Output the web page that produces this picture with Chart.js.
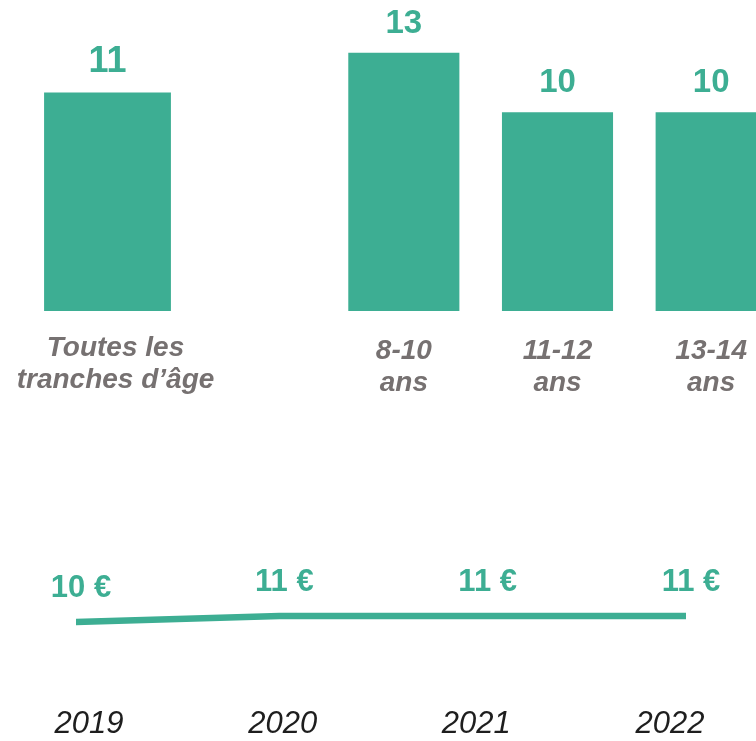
<!DOCTYPE html>
<html>
<head>
<meta charset="utf-8">
<script src="https://cdn.jsdelivr.net/npm/chart.js@4.4.1/dist/chart.umd.min.js"></script>
<style>
  html, body { margin: 0; padding: 0; background: #fff; overflow: hidden; width: 756px; height: 741px; }
  .box { position: absolute; }
</style>
</head>
<body>
<div class="box" style="left:0;top:0;width:215px;height:400px"><canvas id="allAges"></canvas></div>
<div class="box" style="left:327px;top:0;width:461px;height:400px"><canvas id="byAge"></canvas></div>
<div class="box" style="left:0;top:540px;width:756px;height:201px"><canvas id="byYear"></canvas></div>
<script>
// donnees
let allAgesLabel = [["Toutes les", "tranches d’âge"]];
let allAgesValue = [11];
let ageLabels = [["8-10", "ans"], ["11-12", "ans"], ["13-14", "ans"]];
let ageValues = [13, 10, 10];
let years = [2019, 2020, 2021, 2022];
let yearValues = [10, 11, 11, 11];

let green = "#3dae93";
let grey = "#767171";
let fontFamily = "'Liberation Sans', Arial, sans-serif";

// etiquette de valeur au dessus de chaque barre
let barValues = (size) => ({
    id: "barValues" + size,
    afterDatasetsDraw(chart) {
        let ctx = chart.ctx;
        let meta = chart.getDatasetMeta(0);
        ctx.save();
        ctx.fillStyle = green;
        ctx.font = "bold " + size + "px " + fontFamily;
        ctx.textAlign = "center";
        ctx.textBaseline = "alphabetic";
        meta.data.forEach((bar, i) => {
            ctx.fillText(chart.data.datasets[0].data[i], bar.x, bar.y - 20);
        });
        ctx.restore();
    }
});

let barChart = (id, labels, values, pct, pad, shift, size) => new Chart(id, {
    type: "bar",
    data: {
        labels: labels,
        datasets: [{
            data: values,
            backgroundColor: green,
            barPercentage: pct,
            categoryPercentage: 1
        }]
    },
    options: {
        responsive: true,
        maintainAspectRatio: false,
        animation: false,
        events: [],
        layout: { padding: { top: 13, left: 0, right: 0, bottom: 0 } },
        plugins: { legend: { display: false }, tooltip: { enabled: false } },
        scales: {
            x: {
                grid: { display: false, drawTicks: false },
                border: { display: false },
                ticks: {
                    color: grey,
                    padding: pad,
                    labelOffset: shift,
                    maxRotation: 0,
                    autoSkip: false,
                    font: { family: fontFamily, size: 28, style: "italic", weight: "bold", lineHeight: 1.12 }
                },
                afterFit: s => {
                    s.height = 89;
                    s.paddingLeft = 0;
                    s.paddingRight = 0;
                }
            },
            y: { display: false, min: 0, max: 15 }
        }
    },
    plugins: [barValues(size)]
});

barChart("allAges", allAgesLabel, allAgesValue, 0.59, 22, 8, 36);
barChart("byAge", ageLabels, ageValues, 0.723, 25, 0, 33);

// courbe du montant par annee
let yearPoints = years.map((y, i) => ({ x: y, y: yearValues[i] }));

new Chart("byYear", {
    type: "line",
    data: {
        datasets: [{
            data: yearPoints,
            borderColor: green,
            borderWidth: 6.5,
            borderCapStyle: "round",
            pointRadius: 0,
            tension: 0
        }]
    },
    options: {
        responsive: true,
        maintainAspectRatio: false,
        animation: false,
        events: [],
        layout: { padding: { top: 40, left: 76, right: 70, bottom: 0 } },
        plugins: { legend: { display: false }, tooltip: { enabled: false } },
        scales: {
            x: { type: "linear", display: false, min: 2019, max: 2022 },
            years: {
                type: "linear",
                position: "bottom",
                min: 2019 - 13 / 193.65,
                max: 2022 + 16 / 193.65,
                grid: { display: false, drawTicks: false },
                border: { display: false },
                afterBuildTicks: s => { s.ticks = years.map(v => ({ value: v })); },
                ticks: {
                    color: "#1e1e1e",
                    padding: 23.5,
                    maxRotation: 0,
                    callback: v => String(v),
                    font: { family: fontFamily, size: 31, style: "italic", lineHeight: 1.2 }
                },
                afterFit: s => { s.height = 59; }
            },
            y: { display: false, min: 0, max: 17 }
        }
    },
    plugins: [{
        id: "lineValues",
        afterDatasetsDraw(chart) {
            let ctx = chart.ctx;
            ctx.save();
            ctx.fillStyle = green;
            ctx.font = "bold 31px " + fontFamily;
            ctx.textAlign = "center";
            ctx.textBaseline = "alphabetic";
            chart.getDatasetMeta(0).data.forEach((pt, i) => {
                ctx.fillText(yearValues[i] + " €", pt.x + 5, pt.y - 25);
            });
            ctx.restore();
        }
    }]
});
</script>
</body>
</html>
